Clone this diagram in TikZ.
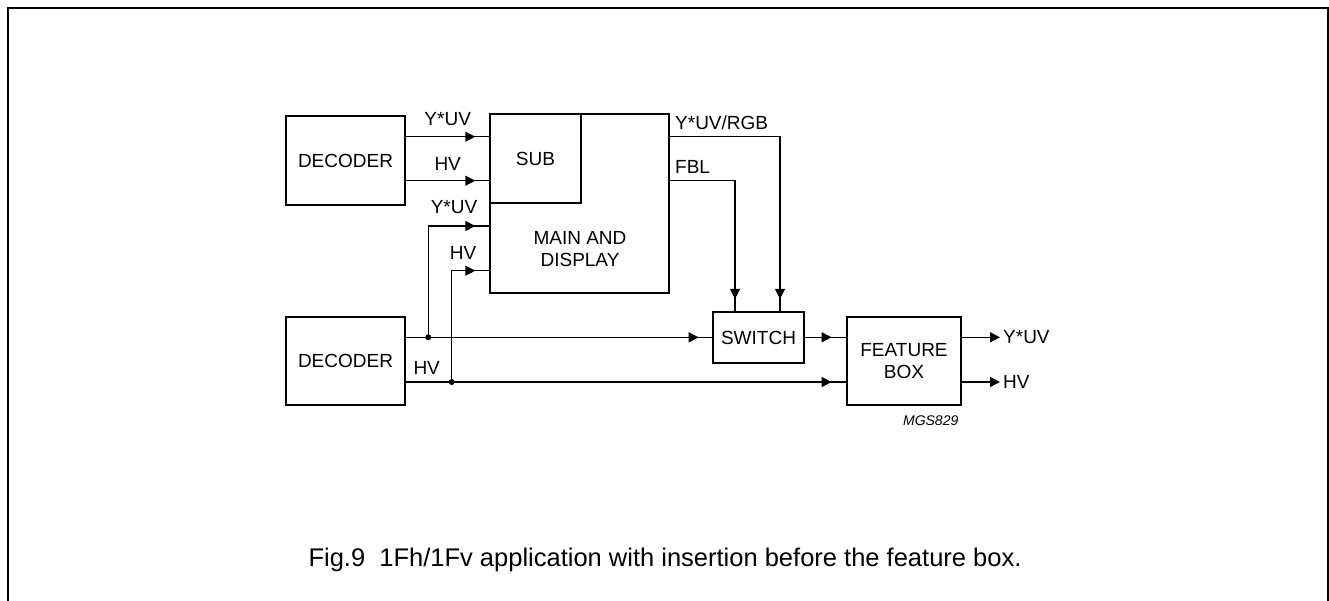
\documentclass[tikz,border=0pt]{standalone}
\usepackage{fontspec}
\setmainfont{Liberation Sans}
\usetikzlibrary{arrows.meta,decorations.markings}
\tikzset{
  box/.style={draw, line width=2.8pt, rectangle, inner sep=0pt, font=\fontsize{19}{22}\selectfont, align=center},
  sig/.style={line width=1.4pt},
  tip/.style={postaction={decorate}, decoration={markings, mark=at position #1 with {\arrow{Triangle[length=10pt,width=10pt]}}}},
  endtip/.style={-{Triangle[length=10pt,width=10pt]}},
  lbl/.style={inner sep=0pt, font=\fontsize{19}{22}\selectfont},
  dot/.style={circle, fill, inner sep=0pt, minimum size=6pt},
}
\begin{document}
\begin{tikzpicture}[x=1pt,y=-1pt]
\useasboundingbox (0,0) rectangle (1329,601);
\draw[line width=2pt] (7.5,601) -- (7.5,8.5) -- (1328,8.5) -- (1328,601);

% boxes
\node[box, minimum width=119pt, minimum height=89pt] (dec1) at (345.5,160.5) {DECODER};
\node[box, minimum width=119pt, minimum height=88pt] (dec2) at (345.5,361) {DECODER};
\node[box, minimum width=179pt, minimum height=179pt] (main) at (579.5,203.5) {};
\node[box, minimum width=91pt, minimum height=89pt] (sub) at (535.5,158.5) {SUB};
\node[lbl, align=center, font=\fontsize{19}{22.5}\selectfont] (maintxt) at (580,249) {MAIN AND\\DISPLAY};
\node[box, minimum width=91pt, minimum height=51pt] (sw) at (758.5,337.5) {SWITCH};
\node[box, minimum width=114pt, minimum height=88pt] (feat) at (904,361) {FEATURE\\BOX};

% coordinates
\coordinate (ya) at (0,136.7);
\coordinate (yb) at (0,180.7);
\coordinate (yc) at (0,226);
\coordinate (yd) at (0,270.7);
\coordinate (ye) at (0,337.3);
\coordinate (yf) at (0,382);
\coordinate (xrgb) at (780,0);
\coordinate (xfbl) at (735,0);
\coordinate (j1) at (428.3,337.3);
\coordinate (j2) at (451.7,382);
\coordinate (o1) at (1000,337.3);
\coordinate (o2) at (1000,382);

% top decoder to SUB
\draw[sig, tip=-13.3pt] (dec1.east |- ya) -- (main.west |- ya);
\draw[sig, tip=-13.3pt] (dec1.east |- yb) -- (main.west |- yb);

% main outputs
\draw[sig, tip=-11.7pt] (main.east |- ya) -- (xrgb |- ya) -- (xrgb |- sw.north);
\draw[sig, tip=-11.7pt] (main.east |- yb) -- (xfbl |- yb) -- (xfbl |- sw.north);

% lower decoder
\draw[sig, tip=-13pt] (dec2.east |- ye) -- (sw.west |- ye);
\draw[sig, tip=-14pt] (dec2.east |- yf) -- (feat.west |- yf);
\draw[sig, tip=-13.3pt] (j1) -- (j1 |- yc) -- (main.west |- yc);
\draw[sig, tip=-13.3pt] (j2) -- (j2 |- yd) -- (main.west |- yd);
\node[dot] (d1) at (j1) {};
\node[dot] (d2) at (j2) {};

% switch to feature
\draw[sig, tip=-14pt] (sw.east |- ye) -- (feat.west |- ye);

% outputs
\draw[sig, endtip] (feat.east |- ye) -- (o1);
\draw[sig, endtip] (feat.east |- yf) -- (o2);

% labels
\node[lbl] (l1) at (447.7,119) {Y*UV};
\node[lbl] (l2) at (447.7,164) {HV};
\node[lbl] (l3) at (454,207) {Y*UV};
\node[lbl] (l4) at (463,253) {HV};
\node[lbl] (l5) at (426.7,368) {HV};
\node[lbl, anchor=west] (l6) at (675,122.7) {Y*UV/RGB};
\node[lbl, anchor=west] (l7) at (675,167.3) {FBL};
\node[lbl, anchor=west] (l8) at (1003,337.3) {Y*UV};
\node[lbl, anchor=west] (l9) at (1003,382) {HV};
\node[inner sep=0pt, font=\fontsize{14}{16}\selectfont\itshape] (mgs) at (930.7,420.7) {MGS829};

\node[inner sep=0pt, font=\fontsize{25.5}{30}\selectfont] (cap) at (665,560) {Fig.9\ \ 1Fh/1Fv application with insertion before the feature box.};
\end{tikzpicture}
\end{document}
